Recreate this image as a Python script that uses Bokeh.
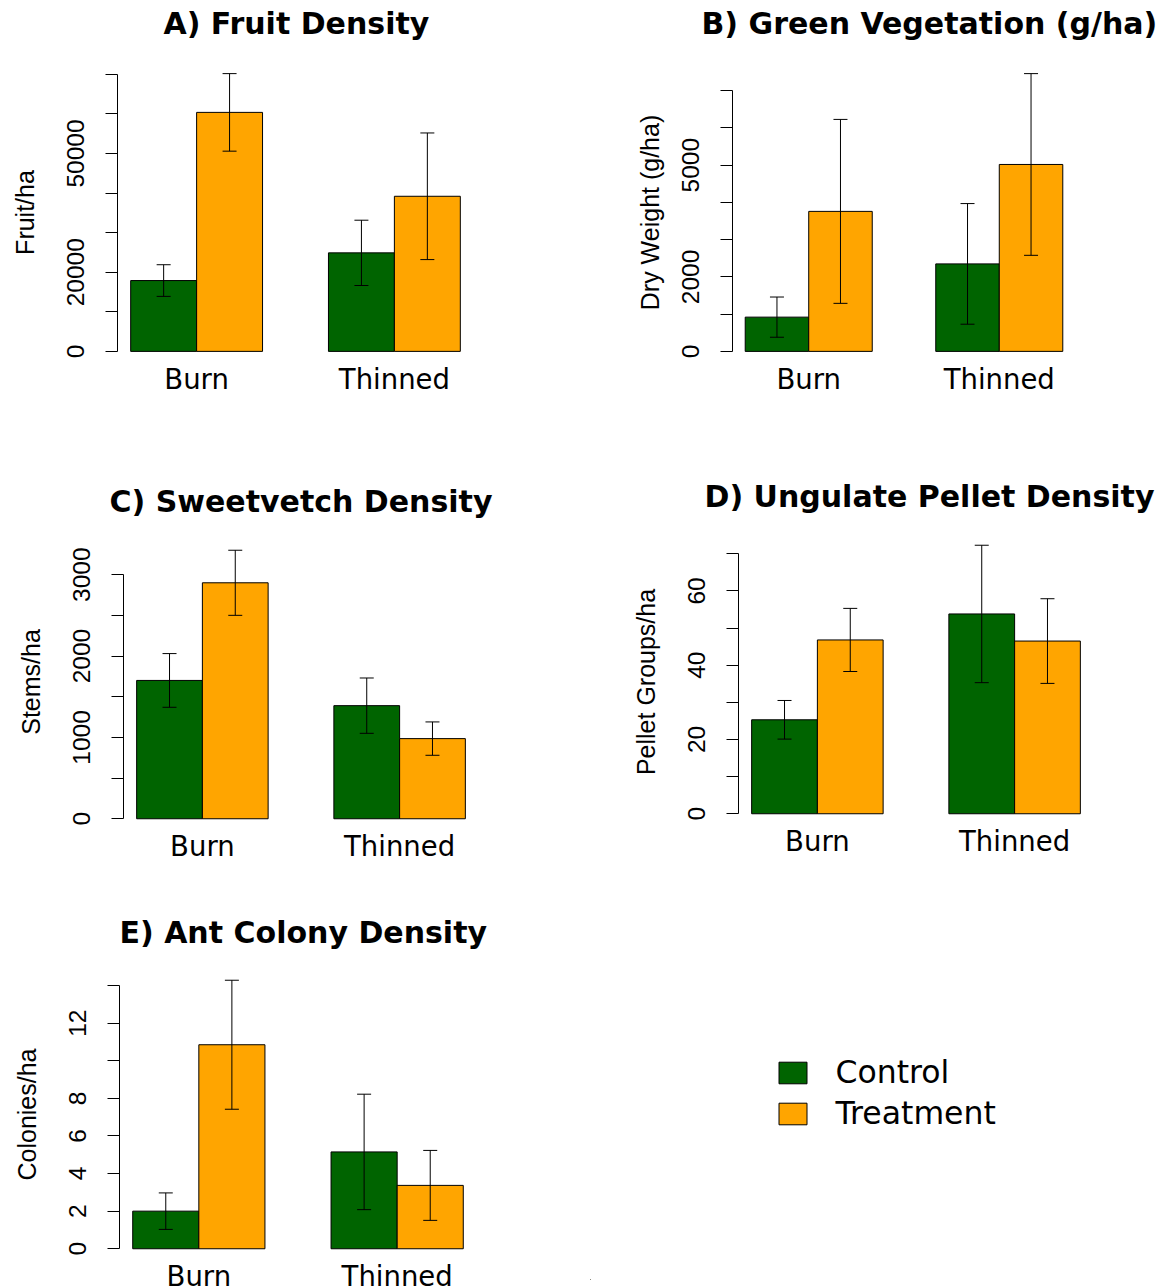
from bokeh.plotting import figure
from bokeh.models import (ColumnDataSource, FixedTicker, Whisker, TeeHead,
                          Range1d, Legend, LegendItem)
from bokeh.layouts import row, column
from bokeh.embed import file_html
from bokeh.resources import INLINE

# ---- data -------------------------------------------------------------
groups = ["Burn", "Thinned"]
series_names = ["Control", "Treatment"]
series_colors = ["#006400", "#FFA500"]

# A) Fruit Density (fruit/ha)
fruit_control = [17900, 24900]
fruit_control_se = [4000, 8250]
fruit_treatment = [60400, 39200]
fruit_treatment_se = [9800, 16000]
fruit_ticks = [0, 10000, 20000, 30000, 40000, 50000, 60000, 70000]
fruit_tick_labels = ["0", "", "20000", "", "", "50000", "", ""]

# B) Green Vegetation (g/ha)
veg_control = [920, 2350]
veg_control_se = [540, 1620]
veg_treatment = [3760, 5020]
veg_treatment_se = [2470, 2440]
veg_ticks = [0, 1000, 2000, 3000, 4000, 5000, 6000, 7000]
veg_tick_labels = ["0", "", "2000", "", "", "5000", "", ""]

# C) Sweetvetch Density (stems/ha)
vetch_control = [1700, 1390]
vetch_control_se = [330, 340]
vetch_treatment = [2900, 985]
vetch_treatment_se = [400, 205]
vetch_ticks = [0, 500, 1000, 1500, 2000, 2500, 3000]
vetch_tick_labels = ["0", "", "1000", "", "2000", "", "3000"]

# D) Ungulate Pellet Density (pellet groups/ha)
pellet_control = [25.3, 53.8]
pellet_control_se = [5.2, 18.5]
pellet_treatment = [46.8, 46.5]
pellet_treatment_se = [8.5, 11.4]
pellet_ticks = [0, 10, 20, 30, 40, 50, 60, 70]
pellet_tick_labels = ["0", "", "20", "", "40", "", "60", ""]

# E) Ant Colony Density (colonies/ha)
ant_control = [2.0, 5.15]
ant_control_se = [0.97, 3.07]
ant_treatment = [10.85, 3.37]
ant_treatment_se = [3.43, 1.86]
ant_ticks = [0, 2, 4, 6, 8, 10, 12, 14]
ant_tick_labels = ["0", "2", "4", "6", "8", "", "12", ""]

# ---- styling ----------------------------------------------------------
TITLE_FONT = "DejaVu Sans"
TICK_FONT = "Liberation Sans"
GROUP_FONT = "DejaVu Sans"


def panel(title, ylabel, control, control_se, treatment, treatment_se,
          ticks, tick_labels, frame_box, plot_box, title_offset,
          title_standoff=0, ylabel_standoff=26):
    # frame_box: figure borders and frame; plot_box: bar region inside the frame
    left, frame_w, right, top, frame_h, bottom = frame_box
    plot_off, plot_h = plot_box
    below = frame_h - plot_off - plot_h

    # barplot(beside=TRUE) layout: bars of width 1, one empty slot between groups
    base = [1 + 3 * i for i in range(len(groups))]
    x_ctrl = [b + 0.5 for b in base]
    x_trt = [b + 1.5 for b in base]
    x_grp = [b + 1.0 for b in base]

    ymax = max(max(m + s for m, s in zip(control, control_se)),
               max(m + s for m, s in zip(treatment, treatment_se)))
    # R-style 4% padding on the bar region; the frame adds slack above and below
    y0, y1 = -0.04 * ymax, 1.04 * ymax
    px_per_unit = plot_h / (y1 - y0)

    p = figure(frame_width=frame_w, frame_height=frame_h,
               min_border_left=left, min_border_right=right,
               min_border_top=top, min_border_bottom=bottom,
               x_range=Range1d(base[0] - 0.2, base[-1] + 2.2),
               y_range=Range1d(y0 - below / px_per_unit, y1 + plot_off / px_per_unit),
               output_backend="svg", toolbar_location=None, tools="")
    p.outline_line_color = None
    p.grid.visible = False
    p.background_fill_color = "white"
    p.border_fill_color = "white"

    p.title.text = title
    p.title.align = "left"
    p.title.offset = title_offset
    p.title.standoff = title_standoff
    p.title.text_font = TITLE_FONT
    p.title.text_font_style = "bold"
    p.title.text_font_size = "30px"
    p.title.text_color = "black"

    for xs, ms, color in ((x_ctrl, control, series_colors[0]),
                          (x_trt, treatment, series_colors[1])):
        p.vbar(x=xs, top=ms, bottom=0, width=1.0, fill_color=color,
               line_color="black", line_width=1)

    for xs, ms, ses in ((x_ctrl, control, control_se),
                        (x_trt, treatment, treatment_se)):
        src = ColumnDataSource(dict(x=xs,
                                    upper=[m + s for m, s in zip(ms, ses)],
                                    lower=[m - s for m, s in zip(ms, ses)]))
        w = Whisker(base="x", upper="upper", lower="lower", source=src,
                    line_color="black", line_width=1, level="overlay",
                    upper_head=TeeHead(size=14, line_color="black", line_width=1),
                    lower_head=TeeHead(size=14, line_color="black", line_width=1))
        p.add_layout(w)

    ya = p.yaxis[0]
    ya.ticker = FixedTicker(ticks=ticks)
    ya.major_label_overrides = {t: lab for t, lab in zip(ticks, tick_labels)}
    ya.bounds = (ticks[0], ticks[-1])
    ya.major_label_orientation = "vertical"
    ya.major_tick_out = 12
    ya.major_tick_in = 0
    ya.minor_tick_out = 0
    ya.minor_tick_in = 0
    ya.major_label_standoff = 21
    ya.major_label_text_font = TICK_FONT
    ya.major_label_text_font_size = "24.5px"
    ya.major_label_text_color = "black"
    ya.axis_line_color = "black"
    ya.major_tick_line_color = "black"
    ya.axis_label = ylabel
    ya.axis_label_text_font = TICK_FONT
    ya.axis_label_text_font_size = "25px"
    ya.axis_label_text_font_style = "normal"
    ya.axis_label_text_color = "black"
    ya.axis_label_standoff = ylabel_standoff

    xa = p.xaxis[0]
    xa.ticker = FixedTicker(ticks=x_grp)
    xa.major_label_overrides = {t: g for t, g in zip(x_grp, groups)}
    xa.axis_line_color = None
    xa.major_tick_line_color = None
    xa.minor_tick_line_color = None
    xa.major_tick_out = 0
    # group names sit just under the bar region, not under the frame slack
    xa.major_label_standoff = -round(below)
    xa.major_label_text_font = GROUP_FONT
    xa.major_label_text_font_size = "27.5px"
    xa.major_label_text_color = "black"
    return p


# frame_box = (border left, frame width, border right, border top, frame height, border bottom)
# plot_box = (bar region offset below frame top, bar region height)
pa = panel("A) Fruit Density", "Fruit/ha",
           fruit_control, fruit_control_se, fruit_treatment, fruit_treatment_se,
           fruit_ticks, fruit_tick_labels,
           (117, 356, 117, 40, 344, 56), (22, 300), title_offset=46)
pb = panel("B) Green Vegetation (g/ha)", "Dry Weight (g/ha)",
           veg_control, veg_control_se, veg_treatment, veg_treatment_se,
           veg_ticks, veg_tick_labels,
           (142, 343, 92, 40, 344, 56), (22, 300), title_offset=-31,
           ylabel_standoff=16)
pc = panel("C) Sweetvetch Density", "Stems/ha",
           vetch_control, vetch_control_se, vetch_treatment, vetch_treatment_se,
           vetch_ticks, vetch_tick_labels,
           (123, 355, 112, 78, 327, 35), (21, 290), title_offset=-14)
pd = panel("D) Ungulate Pellet Density", "Pellet Groups/ha",
           pellet_control, pellet_control_se, pellet_treatment, pellet_treatment_se,
           pellet_ticks, pellet_tick_labels,
           (148, 355, 74, 78, 327, 35), (16, 290), title_offset=-34,
           title_standoff=10)
pe = panel("E) Ant Colony Density", "Colonies/ha",
           ant_control, ant_control_se, ant_treatment, ant_treatment_se,
           ant_ticks, ant_tick_labels,
           (119, 357, 114, 69, 330, 8), (20, 290), title_offset=0)

# legend cell, framed like its row neighbour
pl = figure(frame_width=577, frame_height=330,
            min_border_left=0, min_border_right=0,
            min_border_top=69, min_border_bottom=8,
            x_range=Range1d(0, 1), y_range=Range1d(0, 1),
            output_backend="svg", toolbar_location=None, tools="")
pl.axis.visible = False
pl.grid.visible = False
pl.outline_line_color = None
pl.border_fill_color = "white"
items = []
for name, color in zip(series_names, series_colors):
    # a single off-range bar per series gives the legend its swatch
    r = pl.vbar(x=[-5], top=[-5], bottom=[-6], width=1, fill_color=color,
                line_color="black", line_width=1)
    items.append(LegendItem(label=name, renderers=[r]))
legend = Legend(items=items, location=(184.5, 148),
                glyph_width=35, glyph_height=27, label_height=22,
                label_standoff=26, spacing=5, padding=0, margin=0,
                border_line_color=None, background_fill_alpha=0,
                label_text_font="DejaVu Sans", label_text_font_size="31.5px",
                label_text_color="black")
pl.add_layout(legend, "center")

layout = column(row(pa, pb), row(pc, pd), row(pe, pl))

with open("out.html", "w") as f:
    f.write(file_html(layout, INLINE))
